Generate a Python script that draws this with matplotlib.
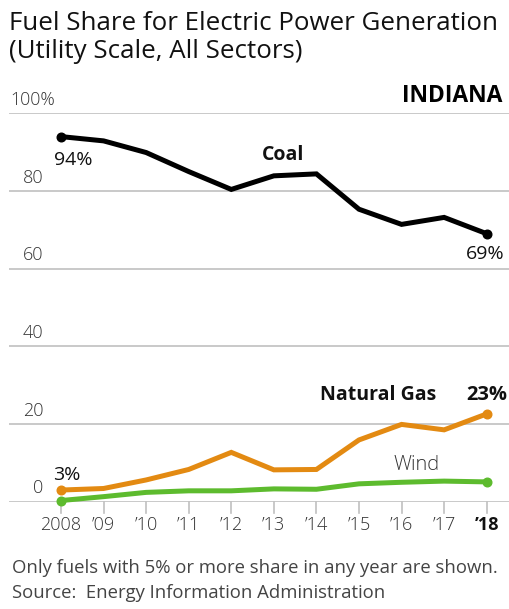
import matplotlib
matplotlib.use("Agg")
import matplotlib.pyplot as plt

years = [2008, 2009, 2010, 2011, 2012, 2013, 2014, 2015, 2016, 2017, 2018]
year_labels = ["2008", "\u201909", "\u201910", "\u201911", "\u201912", "\u201913", "\u201914", "\u201915", "\u201916", "\u201917", "\u201918"]
coal = [94.0, 92.9, 89.9, 85.0, 80.4, 83.9, 84.4, 75.3, 71.4, 73.2, 69.0]
natural_gas = [3.0, 3.4, 5.6, 8.3, 12.7, 8.2, 8.3, 15.9, 19.9, 18.5, 22.6]
wind = [0.3, 1.3, 2.4, 2.8, 2.8, 3.3, 3.2, 4.6, 5.0, 5.3, 5.1]
y_ticks = [0, 20, 40, 60, 80, 100]
y_tick_labels = ["0", "20", "40", "60", "80", "100%"]

FONT = "Open Sans"
plt.rcParams["font.family"] = [FONT, "DejaVu Sans"]

W, H = 510, 609
fig = plt.figure(figsize=(W / 100, H / 100), dpi=100)
fig.patch.set_facecolor("white")

# axes placement in pixels
ax_left, ax_right = 9, 510
y0_px, y100_px = 501.7, 113.3
ax = fig.add_axes([ax_left / W, (H - y0_px) / H, (ax_right - ax_left) / W, (y0_px - y100_px) / H])
px_per_year = (486.7 - 61) / 10
xmin = 2008 - (61 - ax_left) / px_per_year
xmax = 2018 + (ax_right - 486.7) / px_per_year
ax.set_xlim(xmin, xmax)
ax.set_ylim(0, 100)
ax.axis("off")

grid_c = "#c0c0c0"
for t in y_ticks:
    ax.axhline(t, color=grid_c, lw=1.2, zorder=1)

# year ticks below axis
for yr in years:
    ax.plot([yr, yr], [0, -2.8], color=grid_c, lw=1.2, clip_on=False, zorder=1)

coal_c = "#000000"
gas_c = "#E38A12"
wind_c = "#5DBB2E"

kw = dict(lw=3.6, solid_capstyle="round", solid_joinstyle="miter", clip_on=False)
ax.plot(years, wind, color=wind_c, zorder=3, **kw)
ax.plot(years, natural_gas, color=gas_c, zorder=3, **kw)
ax.plot(years, coal, color=coal_c, zorder=4, **kw)
for s, c in [(wind, wind_c), (natural_gas, gas_c), (coal, coal_c)]:
    ax.plot([years[0], years[-1]], [s[0], s[-1]], "o", color=c, ms=6.2, zorder=5, clip_on=False)

lab_c = "#333333"
for t, lab in zip(y_ticks, y_tick_labels):
    if lab.endswith("%"):
        ax.text(xmin + 1 / px_per_year, t + 3.4, lab, ha="left", va="center",
                fontsize=12.8, color=lab_c, fontweight="light")
    else:
        ax.text(2008 - (61 - 43.5) / px_per_year, t + 3.4, lab, ha="right", va="center",
                fontsize=13, color=lab_c, fontweight="light")

for i, (yr, lab) in enumerate(zip(years, year_labels)):
    last = i == len(years) - 1
    ax.text(yr, -6.1, lab, ha="center", va="center", fontsize=13,
            color="#111111" if last else lab_c, fontweight="bold" if last else "light")

# annotations
dark = "#111111"
ax.text(2008.28, 88.0, f"{coal[0]:.0f}%", ha="center", va="center", fontsize=14, color=dark, fontweight="medium")
ax.text(2017.96, 63.8, f"{coal[-1]:.0f}%", ha="center", va="center", fontsize=14, color=dark, fontweight="medium")
ax.text(2013.21, 89.2, "Coal", ha="center", va="center", fontsize=14, color=dark, fontweight="bold")
ax.text(2008.14, 7.0, f"{natural_gas[0]:.0f}%", ha="center", va="center", fontsize=14, color=dark, fontweight="medium")
ax.text(2015.45, 27.6, "Natural Gas", ha="center", va="center", fontsize=14, color=dark, fontweight="bold")
ax.text(2018.0, 27.6, f"{round(natural_gas[-1]):.0f}%", ha="center", va="center", fontsize=14.5, color=dark, fontweight="bold")
ax.text(2016.36, 9.4, "Wind", ha="center", va="center", fontsize=14.5, color=lab_c, fontweight="light")
ax.text(2018.36, 104.4, "INDIANA", ha="right", va="center", fontsize=16.5, color="#000000", fontweight="bold")

fig.text(9 / W, 1 - 30.5 / H, "Fuel Share for Electric Power Generation",
         ha="left", va="baseline", fontsize=18.6, color=dark)
fig.text(9 / W, 1 - 58 / H, "(Utility Scale, All Sectors)",
         ha="left", va="baseline", fontsize=18.6, color=dark)
fig.text(12 / W, 1 - 573 / H, "Only fuels with 5% or more share in any year are shown.",
         ha="left", va="baseline", fontsize=13.3, color="#444444")
fig.text(12 / W, 1 - 598 / H, "Source:  Energy Information Administration",
         ha="left", va="baseline", fontsize=13.3, color="#444444")

fig.savefig("out.png", dpi=100, facecolor="white")
